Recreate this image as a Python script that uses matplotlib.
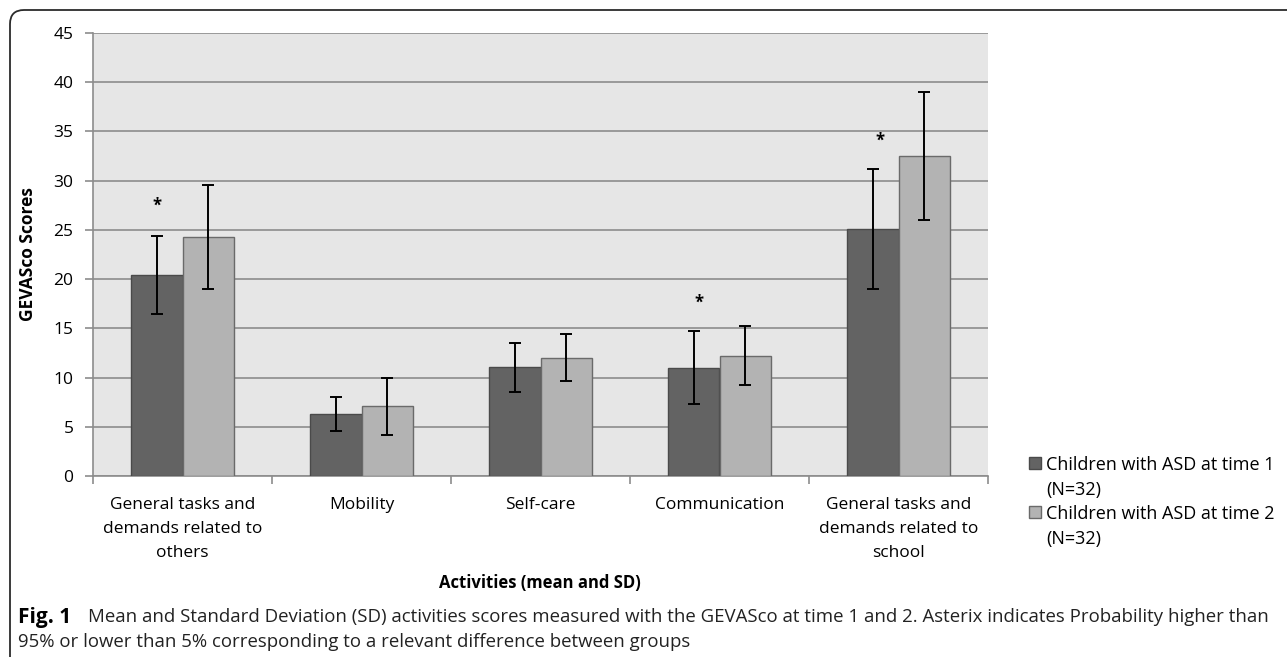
import numpy as np
import matplotlib
matplotlib.use("Agg")
import matplotlib.pyplot as plt
from matplotlib.patches import FancyBboxPatch, Patch, Rectangle
from matplotlib.legend_handler import HandlerPatch
from matplotlib.transforms import IdentityTransform

plt.rcParams['font.family'] = ['Open Sans', 'DejaVu Sans']

# Datos
categorias = ["General tasks and\ndemands related to\nothers", "Mobility", "Self-care",
              "Communication", "General tasks and\ndemands related to\nschool"]
media_t1 = [20.4, 6.3, 11.05, 11.0, 25.1]
sd_t1 = [3.95, 1.7, 2.5, 3.7, 6.1]
media_t2 = [24.3, 7.1, 12.0, 12.2, 32.5]
sd_t2 = [5.3, 2.9, 2.4, 3.0, 6.5]
asteriscos = [27.5, None, None, 17.6, 34.1]   # altura del "*" sobre el grupo time 1

etiquetas = ["Children with ASD at time 1\n(N=32)", "Children with ASD at time 2\n(N=32)"]
yticks = [0, 5, 10, 15, 20, 25, 30, 35, 40, 45]

W, H = 1287, 657
fig = plt.figure(figsize=(W / 100, H / 100), dpi=100)
ax = fig.add_axes([93 / W, 1 - 476 / H, (988 - 93) / W, (476 - 33) / H])

x = np.arange(len(categorias))
ancho = 0.285
col1, col2 = '#636363', '#b3b3b3'

ax.set_facecolor('#e6e6e6')
ax.bar(x - ancho / 2, media_t1, ancho, color=col1, edgecolor='#4a4a4a', linewidth=1, zorder=3)
ax.bar(x + ancho / 2, media_t2, ancho, color=col2, edgecolor='#6a6a6a', linewidth=1, zorder=3)
ax.errorbar(x - ancho / 2, media_t1, yerr=sd_t1, fmt='none', ecolor='black',
            elinewidth=1.4, capsize=4, capthick=1.4, zorder=4)
ax.errorbar(x + ancho / 2, media_t2, yerr=sd_t2, fmt='none', ecolor='black',
            elinewidth=1.4, capsize=4, capthick=1.4, zorder=4)

for i, a in enumerate(asteriscos):
    if a is not None:
        ax.text(x[i] - ancho / 2 + 0.01 * i, a, '*', ha='center', va='center',
                fontsize=12, fontweight='bold', zorder=5)

ax.set_ylim(0, 45)
ax.set_xlim(-0.5, len(categorias) - 0.5)
ax.set_yticks(yticks)
ax.yaxis.grid(True, color='#8c8c8c', linewidth=1.2, zorder=0)
ax.set_axisbelow(True)

ax.set_xticks(x)
ax.set_xticklabels(categorias, fontsize=12.5, linespacing=1.68)
ax.set_xticks(np.arange(-0.5, len(categorias)), minor=True)
ax.tick_params(axis='x', which='major', length=0, pad=15)
ax.tick_params(axis='x', which='minor', length=6, color='#8c8c8c', width=1.2)
ax.tick_params(axis='y', length=6, color='#8c8c8c', width=1.2, labelsize=12.5, pad=8)

for lado in ['top', 'right']:
    ax.spines[lado].set_visible(False)
for lado in ['left', 'bottom']:
    ax.spines[lado].set_color('#8c8c8c')
    ax.spines[lado].set_linewidth(1.2)

ax.set_ylabel('GEVASco Scores', fontsize=12.5, fontweight='bold')
ax.yaxis.set_label_coords(-0.0626, 0.5)
fig.text(540 / W, 1 - 583 / H, 'Activities (mean and SD)', ha='center', va='center',
         fontsize=12, fontweight='bold')


# cuadrito de la leyenda alineado con la primera linea del texto
def cuadro_arriba(legend, orig_handle, xdescent, ydescent, width, height, fontsize):
    return Rectangle((-xdescent, -ydescent + fontsize * 0.85), width, height)


handles = [Patch(facecolor=col1, edgecolor='#4a4a4a'), Patch(facecolor=col2, edgecolor='#6a6a6a')]
leg = fig.legend(handles, etiquetas, loc='upper left', bbox_to_anchor=(1020 / W, 1 - 447 / H),
                 frameon=False, fontsize=13, handlelength=0.65, handleheight=0.65,
                 handletextpad=0.3, labelspacing=0.32, borderpad=0,
                 handler_map={Patch: HandlerPatch(patch_func=cuadro_arriba)})
for t in leg.get_texts():
    t.set_linespacing(1.5)

# Marco redondeado (solo borde superior e izquierdo visibles)
marco = FancyBboxPatch((10, -60), 1500, H - 10 + 60, boxstyle='round,pad=0,rounding_size=14',
                       transform=IdentityTransform(), facecolor='none', edgecolor='#2b2b2b',
                       linewidth=1.3, clip_on=False)
fig.patches.append(marco)

# Leyenda de la figura
fig.text(18 / W, 1 - 617 / H, 'Fig. 1', ha='left', va='center', fontsize=15, fontweight='bold')
fig.text(88 / W, 1 - 617 / H,
         'Mean and Standard Deviation (SD) activities scores measured with the GEVASco at time 1 and 2. '
         'Asterix indicates Probability higher than', ha='left', va='center', fontsize=13.4, color='#222222')
fig.text(18 / W, 1 - 642 / H, '95% or lower than 5% corresponding to a relevant difference between groups',
         ha='left', va='center', fontsize=13.4, color='#222222')

fig.savefig('out.png', dpi=100)
